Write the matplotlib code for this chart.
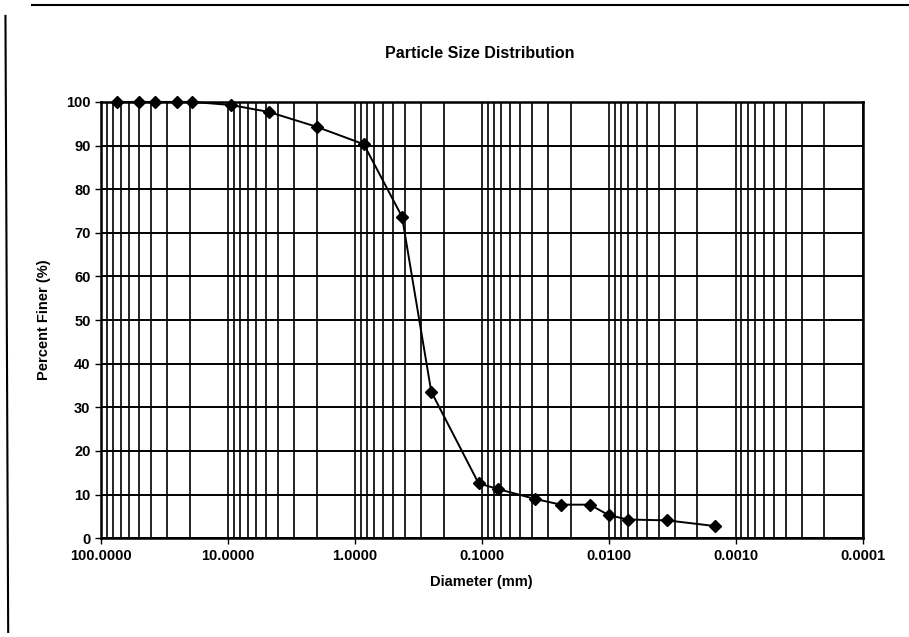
import numpy as np
import matplotlib
matplotlib.use('Agg')
import matplotlib.pyplot as plt
from matplotlib.ticker import FixedLocator, FormatStrFormatter, NullFormatter

plt.rcParams['font.family'] = ['Liberation Sans', 'DejaVu Sans']

# sieve + hydrometer results
diameter_mm = [75, 50, 37.5, 25, 19, 9.5, 4.75, 2.0, 0.85, 0.425, 0.25,
               0.106, 0.075, 0.0379, 0.0238, 0.0141, 0.0100, 0.00708, 0.00347, 0.00146]
percent_finer = [100, 100, 100, 100, 100, 99.3, 97.7, 94.3, 90.3, 73.7, 33.6,
                 12.6, 11.3, 9.0, 7.7, 7.7, 5.3, 4.3, 4.1, 2.8]

x_major = [100, 10, 1, 0.1, 0.01, 0.001, 0.0001]
y_ticks = list(range(0, 101, 10))

fig = plt.figure(figsize=(9.09, 6.37), dpi=100)
ax = fig.add_axes([0.111, 0.155, 0.838, 0.685])

ax.set_xscale('log')
ax.set_xlim(100, 0.0001)
ax.set_ylim(0, 100)

# dense vertical grid (every 1..9 within each decade), horizontal every 10
minor = [m * 10.0 ** e for e in range(-4, 2) for m in range(2, 10)]
for v in minor + x_major:
    ax.axvline(v, color='black', lw=1.2, zorder=1)
for v in y_ticks:
    ax.axhline(v, color='black', lw=1.4, zorder=1)

ax.plot(diameter_mm, percent_finer, color='black', lw=1.4, marker='D',
        markersize=6, zorder=3, clip_on=False)

ax.xaxis.set_major_locator(FixedLocator(x_major))
ax.xaxis.set_major_formatter(FormatStrFormatter('%.4f'))
ax.xaxis.set_minor_formatter(NullFormatter())
ax.tick_params(axis='x', which='minor', length=0)
ax.set_yticks(y_ticks)
ax.tick_params(axis='both', which='major', direction='out', length=4, width=1,
               labelsize=10.5)
for lab in ax.get_xticklabels() + ax.get_yticklabels():
    lab.set_fontweight('bold')

for s in ax.spines.values():
    s.set_linewidth(1.8)
    s.set_color('black')

ax.set_xlabel('Diameter (mm)', fontsize=10.5, fontweight='bold', labelpad=9)
ax.set_ylabel('Percent Finer (%)', fontsize=10.5, fontweight='bold', labelpad=11)
fig.text(0.528, 0.916, 'Particle Size Distribution', ha='center', va='center',
         fontsize=11.5, fontweight='bold')

# scanned chart border fragments
fig.add_artist(plt.Line2D([0.006, 0.009], [0.975, 0.008], color='black', lw=1.5))
fig.add_artist(plt.Line2D([0.035, 1.0], [0.992, 0.992], color='black', lw=1.5))

fig.savefig('out.png', dpi=100)
